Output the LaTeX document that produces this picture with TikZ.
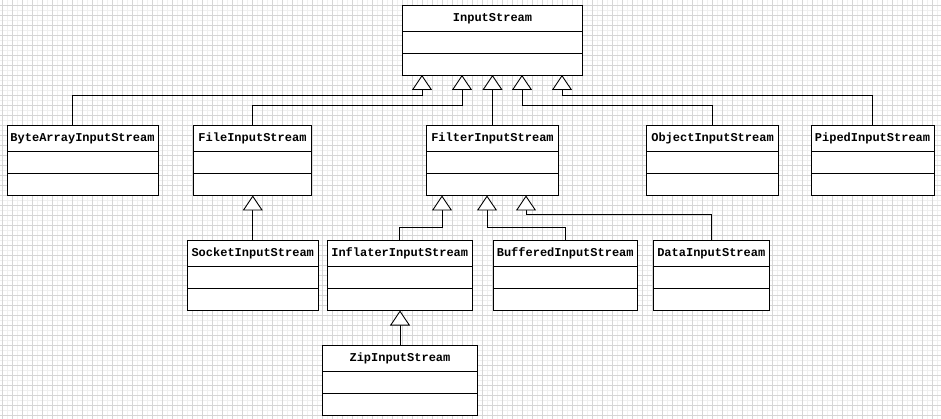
\documentclass[tikz,border=0pt]{standalone}
\usepackage{fontspec}
\newfontfamily\umlfont{Liberation Mono}
\usetikzlibrary{arrows.meta}
\tikzset{
  gridline/.style={draw=black!16, line width=0.6pt},
  subgridline/.style={draw=black!6, line width=0.5pt},
  classbox/.style={draw, line width=0.9pt, fill=white, inner sep=0pt, outer sep=0pt,
    anchor=north west, minimum height=70pt},
  classname/.style={font=\umlfont\bfseries\fontsize{12}{14}\selectfont, inner sep=0pt,
    text height=9pt, text depth=3pt},
  divider/.style={line width=0.9pt},
  inh/.style={line width=0.9pt, -{Triangle[length=15pt, width=20pt, fill=white, line width=0.9pt]}},
}
\newcommand{\umlclass}[5]{%
  \node[classbox, minimum width=#4pt] (#1) at (#2,#3) {};
  \node[classname] (#1-name) at ([yshift=-13.5pt]#1.north) {#5};
  \draw[divider] ([yshift=-26pt]#1.north west) -- ([yshift=-26pt]#1.north east);
  \draw[divider] ([yshift=-48pt]#1.north west) -- ([yshift=-48pt]#1.north east);
}
\begin{document}
\begin{tikzpicture}[x=1pt, y=-1pt]
  \useasboundingbox (0,0) rectangle (941,419);
  \fill[white] (0,0) rectangle (941,419);
  % background grid
  \foreach \x in {7.5,17.5,...,940} \draw[subgridline] (\x,0) -- (\x,419);
  \foreach \y in {10,20,...,419} \draw[subgridline] (0,\y) -- (941,\y);
  \foreach \x in {2.5,12.5,...,940} \draw[gridline] (\x,0) -- (\x,419);
  \foreach \y in {5,15,...,419} \draw[gridline] (0,\y) -- (941,\y);

  % classes
  \umlclass{input}{402.5}{5}{180}{InputStream}
  \umlclass{bytearray}{7}{125.5}{151}{ByteArrayInputStream}
  \umlclass{file}{193.5}{125.5}{118}{FileInputStream}
  \umlclass{filter}{426.5}{125.5}{132}{FilterInputStream}
  \umlclass{object}{646.5}{125.5}{132}{ObjectInputStream}
  \umlclass{piped}{811}{125.5}{123}{PipedInputStream}
  \umlclass{socket}{187}{240.5}{131.5}{SocketInputStream}
  \umlclass{inflater}{327}{240.5}{145.5}{InflaterInputStream}
  \umlclass{buffered}{493}{240.5}{144.5}{BufferedInputStream}
  \umlclass{data}{653}{240.5}{116.5}{DataInputStream}
  \umlclass{zip}{322.5}{345}{155}{ZipInputStream}

  % generalizations
  \draw[inh] ([xshift=65.5pt]bytearray.north west) -- ++(0,-30.5) -| ([xshift=19.5pt]input.south west);
  \draw[inh] (file.north) -- ++(0,-20.5) -| ([xshift=59.5pt]input.south west);
  \draw[inh] (filter.north) -- (filter.north |- input.south);
  \draw[inh] (object.north) -- ++(0,-20.5) -| ([xshift=119.5pt]input.south west);
  \draw[inh] (piped.north) -- ++(0,-30.5) -| ([xshift=159.5pt]input.south west);
  \draw[inh] (socket.north) -- (socket.north |- file.south);
  \draw[inh] (inflater.north) -- ++(0,-13.5) -| ([xshift=15.5pt]filter.south west);
  \draw[inh] (buffered.north) -- ++(0,-13.5) -| ([xshift=60.5pt]filter.south west);
  \draw[inh] (data.north) -- ++(0,-26.5) -| ([xshift=99.5pt]filter.south west);
  \draw[inh] (zip.north) -- (zip.north |- inflater.south);
\end{tikzpicture}
\end{document}
